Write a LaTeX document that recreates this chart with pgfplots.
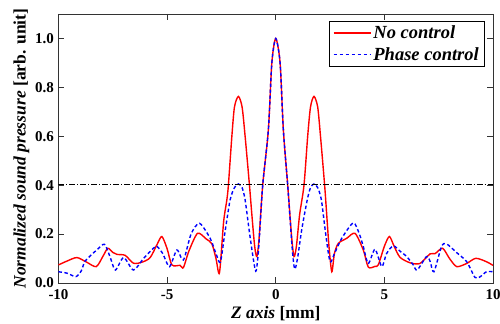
\documentclass[border=0pt]{standalone}
\usepackage{fontspec}
\setmainfont{Liberation Serif}
\usepackage{pgfplots}
\pgfplotsset{compat=1.18}
\begin{document}
\begin{tikzpicture}
\begin{axis}[
  scale only axis,
  width=434.5bp, height=269bp,
  xmin=-10, xmax=10, ymin=0, ymax=1.1,
  xtick={-10,-5,0,5,10},
  ytick={0,0.2,0.4,0.6,0.8,1.0},
  yticklabel style={/pgf/number format/fixed,/pgf/number format/fixed zerofill,/pgf/number format/precision=1},
  /pgf/number format/assume math mode=true,
  tick label style={font=\fontsize{15bp}{17bp}\selectfont\bfseries},
  xticklabel style={yshift=-3bp},
  yticklabel style={xshift=-1bp},
  tick align=inside,
  major tick length=6bp,
  axis line style={line width=0.8bp, black!80},
  every tick/.style={line width=0.8bp, black!80},
  xlabel={\textbf{\textit{Z axis} [mm]}},
  ylabel={\textbf{\textit{Normalized sound pressure} [arb. unit]}},
  label style={font=\fontsize{17.5bp}{19bp}\selectfont},
  xlabel style={yshift=0bp},
  ylabel style={yshift=-1bp},
  legend style={at={(axis description cs:0.982,0.974)}, anchor=north east,
    font=\fontsize{18.5bp}{21bp}\selectfont\bfseries\itshape,
    draw=black, line width=0.8bp, inner xsep=4bp, inner ysep=1bp,
    nodes={inner ysep=3.5bp}},
  legend cell align=left,
  legend image code/.code={\draw[#1] (0cm,0cm) -- (37bp,0cm);},
]
\addplot[red, line width=1.4bp, smooth, tension=0.45] coordinates {
(-10,0.074) (-9.6,0.09) (-9.15,0.104) (-8.7,0.085) (-8.26,0.067) (-7.95,0.11)
(-7.73,0.142) (-7.5,0.125) (-7.31,0.117) (-6.93,0.113) (-6.55,0.081) (-6.16,0.085)
(-5.78,0.104) (-5.45,0.16) (-5.24,0.19) (-5.0,0.14) (-4.78,0.074) (-4.4,0.072)
(-4.25,0.063) (-4.0,0.13) (-3.6,0.203) (-3.2,0.18) (-2.94,0.16) (-2.75,0.1)
(-2.59,0.042) (-2.4,0.25) (-2.25,0.34) (-2.18,0.4) (-2.02,0.6) (-1.9,0.72)
(-1.72,0.763) (-1.55,0.72) (-1.41,0.6) (-1.21,0.4) (-1.1,0.28) (-0.97,0.15)
(-0.87,0.108) (-0.77,0.18) (-0.6,0.4) (-0.34,0.626) (-0.18,0.9) (0,1.0)
(0.2,0.9) (0.35,0.626) (0.55,0.4) (0.73,0.19) (0.84,0.108) (0.95,0.15)
(1.1,0.28) (1.3,0.4) (1.47,0.6) (1.6,0.72) (1.76,0.763) (1.93,0.72)
(2.06,0.6) (2.25,0.4) (2.33,0.3) (2.45,0.15) (2.58,0.046) (2.7,0.12)
(2.88,0.162) (3.27,0.183) (3.65,0.203) (4.03,0.135) (4.26,0.065) (4.57,0.068)
(4.72,0.074) (5.0,0.15) (5.23,0.19) (5.45,0.15) (5.72,0.105) (6.2,0.082)
(6.64,0.08) (7.1,0.119) (7.33,0.12) (7.68,0.142) (8.0,0.1) (8.33,0.067)
(8.79,0.08) (9.21,0.101) (9.7,0.087) (10,0.072)
};
\addlegendentry{No control}
\addplot[blue, line width=1.4bp, dash pattern=on 3.5bp off 2.5bp, smooth, tension=0.45] coordinates {
(-10,0.046) (-9.6,0.04) (-9.2,0.026) (-8.95,0.05) (-8.77,0.09) (-8.24,0.135)
(-7.88,0.158) (-7.6,0.1) (-7.38,0.053) (-7.0,0.104) (-6.55,0.053) (-6.09,0.1)
(-5.63,0.142) (-5.47,0.15) (-5.2,0.12) (-4.89,0.067) (-4.55,0.135) (-4.25,0.094)
(-3.9,0.2) (-3.51,0.244) (-3.02,0.183) (-2.75,0.12) (-2.55,0.085) (-2.35,0.2)
(-2.1,0.34) (-1.9,0.39) (-1.72,0.405) (-1.55,0.39) (-1.41,0.34) (-1.2,0.2)
(-1.0,0.08) (-0.9,0.05) (-0.78,0.15) (-0.6,0.4) (-0.34,0.626) (-0.18,0.9)
(0,1.0) (0.2,0.9) (0.35,0.626) (0.55,0.4) (0.75,0.15) (0.87,0.057)
(1.0,0.1) (1.2,0.22) (1.45,0.34) (1.6,0.39) (1.76,0.405) (1.93,0.39)
(2.1,0.34) (2.3,0.2) (2.5,0.087) (2.7,0.12) (3.04,0.183) (3.57,0.246)
(3.85,0.2) (4.03,0.149) (4.26,0.08) (4.57,0.138) (4.88,0.067) (5.1,0.12)
(5.41,0.152) (5.72,0.13) (6.03,0.108) (6.33,0.074) (6.51,0.053) (6.94,0.108)
(7.1,0.09) (7.28,0.046) (7.63,0.149) (7.86,0.16) (8.33,0.124) (8.79,0.087)
(9.17,0.023) (9.4,0.025) (9.7,0.046) (10,0.046)
};
\addlegendentry{Phase control}
\addplot[black, line width=0.6bp, dash pattern=on 6bp off 2bp on 1bp off 2bp, forget plot] coordinates {(-10,0.405) (10,0.405)};
\end{axis}
\pgfresetboundingbox
\path[use as bounding box] ([xshift=-58.5bp,yshift=-41bp]current axis.south west) rectangle ([xshift=7bp,yshift=14bp]current axis.north east);
\end{tikzpicture}
\end{document}
